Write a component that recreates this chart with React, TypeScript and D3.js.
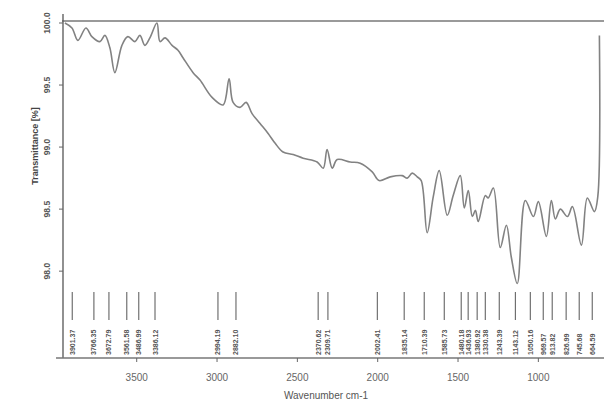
import React from 'react';
import * as d3 from 'd3';

// spectrum trace (wavenumber cm-1 / transmittance %)
const traceWavenumber = [
  3947, 3903, 3866, 3816, 3779, 3729, 3698, 3667, 3636, 3592, 3555, 3511, 3480, 3449, 3418,
  3374, 3355, 3324, 3280, 3243, 3212, 3149, 3106, 3031, 2962, 2925, 2900, 2857, 2819, 2782,
  2732, 2682, 2638, 2589, 2526, 2464, 2377, 2339, 2315, 2283, 2252, 2171, 2109, 2034, 1991,
  1922, 1847, 1816, 1785, 1754, 1729, 1692, 1654, 1617, 1567, 1530, 1486, 1461, 1436, 1411,
  1392, 1374, 1330, 1312, 1280, 1237, 1199, 1168, 1131, 1081, 1031, 1000, 950, 919, 894,
  863, 819, 788, 732, 695, 651, 630, 620,
];
const traceTransmittance = [
  100.0, 99.96, 99.86, 99.96, 99.89, 99.85, 99.9, 99.8, 99.6, 99.82, 99.89, 99.85, 99.9, 99.82, 99.88,
  100.0, 99.85, 99.88, 99.82, 99.78, 99.72, 99.6, 99.54, 99.4, 99.34, 99.55, 99.36, 99.32, 99.36, 99.27,
  99.19, 99.11, 99.03, 98.96, 98.94, 98.91, 98.88, 98.83, 98.98, 98.83, 98.9, 98.88, 98.87, 98.8, 98.73,
  98.76, 98.77, 98.75, 98.79, 98.76, 98.73, 98.31, 98.6, 98.81, 98.45, 98.61, 98.77, 98.51, 98.65, 98.44,
  98.49, 98.4, 98.61, 98.59, 98.67, 98.19, 98.37, 98.11, 97.9, 98.57, 98.44, 98.56, 98.28, 98.57, 98.42,
  98.5, 98.44, 98.52, 98.21, 98.59, 98.48, 98.6, 99.9,
];

// peak picks printed under the spectrum
const peakLabels = [
  3901.37, 3766.35, 3672.79, 3561.58, 3486.99, 3386.12, 2994.19, 2882.1, 2370.62, 2309.71,
  2002.41, 1835.14, 1710.39, 1585.73, 1480.18, 1436.93, 1380.92, 1330.38, 1243.39, 1143.12,
  1050.16, 969.57, 913.82, 826.99, 745.68, 664.59,
];

const xTicks = [3500, 3000, 2500, 2000, 1500, 1000];
const yTicks = [98.0, 98.5, 99.0, 99.5, 100.0];

const W = 604;
const H = 401;
const font = '"Liberation Sans", Arial, sans-serif';

export default function App() {
  const x = d3.scaleLinear().domain([3965, 610]).range([62, 601]);
  const y = d3.scaleLinear().domain([97.3, 100.0]).range([358, 23]);

  const pts: [number, number][] = traceWavenumber.map((w, i) => [w, traceTransmittance[i]]);
  const line = d3
    .line<[number, number]>()
    .x((d) => x(d[0]))
    .y((d) => y(d[1]))
    .curve(d3.curveCatmullRom.alpha(0.5));

  const bottom = y.range()[0];
  const top = y.range()[1];

  return (
    <svg
      width={W}
      height={H}
      style={{ position: 'absolute', left: 0, top: 0, background: '#fff' }}
      fontFamily={font}
    >
      {/* top frame */}
      <line x1={62} x2={W} y1={top - 2} y2={top - 2} stroke="#9a9a9a" strokeWidth={2} />

      {/* axes */}
      <line x1={63} x2={63} y1={14} y2={bottom} stroke="#555" strokeWidth={1.3} />
      <line x1={56} x2={W} y1={bottom} y2={bottom} stroke="#777" strokeWidth={1.5} />

      {yTicks.map((t) => (
        <g key={t} transform={`translate(63, ${y(t)})`}>
          <line x1={-4} x2={0} stroke="#666" />
          <text
            transform="translate(-13, 0) rotate(-90)"
            textAnchor="middle"
            fontSize={8.5}
            fontWeight="bold"
            fill="#555"
          >
            {t.toFixed(1)}
          </text>
        </g>
      ))}
      <text
        transform="translate(38, 146) rotate(-90)"
        textAnchor="middle"
        fontSize={9}
        fontWeight="bold"
        fill="#444"
      >
        Transmittance [%]
      </text>

      {xTicks.map((t) => (
        <g key={t} transform={`translate(${x(t)}, ${bottom})`}>
          <line y1={0} y2={4} stroke="#666" />
          <text y={23} textAnchor="middle" fontSize={10} fill="#666">
            {t}
          </text>
        </g>
      ))}
      <text x={326} y={399} textAnchor="middle" fontSize={10} fill="#555">
        Wavenumber cm-1
      </text>

      {/* spectrum */}
      <path d={line(pts) ?? ''} fill="none" stroke="#828282" strokeWidth={1.6} />

      {/* peak picks */}
      {peakLabels.map((p) => (
        <g key={p} transform={`translate(${x(p)}, 0)`}>
          <line y1={292} y2={320} stroke="#555" strokeWidth={1} />
          <text
            transform="translate(2.5, 355) rotate(-90)"
            fontSize={7}
            fontWeight="bold"
            fill="#555"
          >
            {p.toFixed(2)}
          </text>
        </g>
      ))}
    </svg>
  );
}
